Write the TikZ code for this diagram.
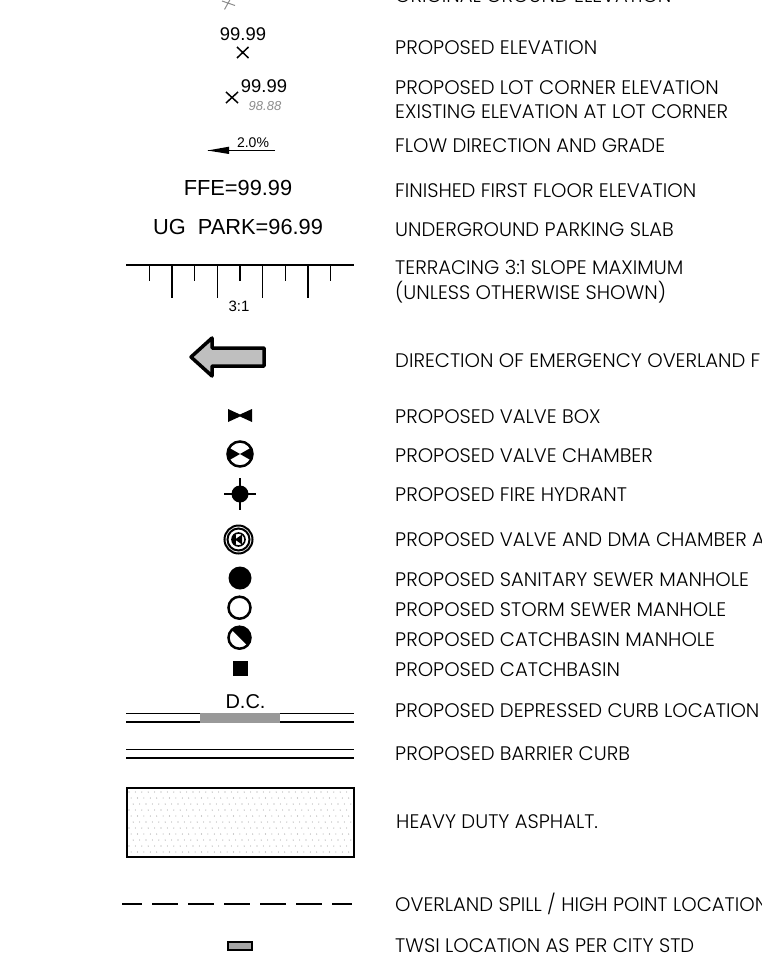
\documentclass[tikz,border=0pt]{standalone}
\usepackage{fontspec}
\setmainfont{Poppins Light}
\newfontfamily\capfont{Liberation Sans}
\tikzset{
	legendtext/.style={anchor=base west, inner sep=0pt, font=\fontsize{19.6}{20}\selectfont},
	capstext/.style={inner sep=0pt, font=\capfont\fontsize{21.8}{22}\selectfont},
	smalltext/.style={inner sep=0pt, font=\capfont\fontsize{18.4}{18}\selectfont},
	symbolline/.style={draw=black, line width=2pt},
	thinline/.style={draw=black, line width=1.5pt}
}
\begin{document}
\begin{tikzpicture}[x=1pt,y=-1pt]
		\useasboundingbox (0,0) rectangle (762,960);
		\clip (0,0) rectangle (762,960);
		
		% Define legend texts
		\node[legendtext] (TextOriginal) at (395,3) {ORIGINAL GROUND ELEVATION};
		\node[legendtext] (TextElevation) at (395,55) {PROPOSED ELEVATION};
		\node[legendtext] (TextLotCorner) at (395,94.3) {PROPOSED LOT CORNER ELEVATION};
		\node[legendtext] (TextExisting) at (395,119) {EXISTING ELEVATION AT LOT CORNER};
		\node[legendtext] (TextFlow) at (395,153) {FLOW DIRECTION AND GRADE};
		\node[legendtext] (TextFinished) at (395,197) {FINISHED FIRST FLOOR ELEVATION};
		\node[legendtext] (TextParking) at (395,236.5) {UNDERGROUND PARKING SLAB};
		\node[legendtext] (TextTerracing) at (395,274) {TERRACING 3:1 SLOPE MAXIMUM};
		\node[legendtext] (TextUnless) at (395,299) {(UNLESS OTHERWISE SHOWN)};
		\node[legendtext] (TextOverlandFlow) at (395,367.5) {DIRECTION OF EMERGENCY OVERLAND F};
		\node[legendtext] (TextValveBox) at (395,423.5) {PROPOSED VALVE BOX};
		\node[legendtext] (TextValveChamber) at (395,462.5) {PROPOSED VALVE CHAMBER};
		\node[legendtext] (TextHydrant) at (395,501.5) {PROPOSED FIRE HYDRANT};
		\node[legendtext] (TextDMA) at (395,546.5) {PROPOSED VALVE AND DMA CHAMBER A};
		\node[legendtext] (TextSanitary) at (395,586.5) {PROPOSED SANITARY SEWER MANHOLE};
		\node[legendtext] (TextStorm) at (395,616.5) {PROPOSED STORM SEWER MANHOLE};
		\node[legendtext] (TextManhole) at (395,646.5) {PROPOSED CATCHBASIN MANHOLE};
		\node[legendtext] (TextCatchbasin) at (395,676.5) {PROPOSED CATCHBASIN};
		\node[legendtext] (TextDepressed) at (395,717) {PROPOSED DEPRESSED CURB LOCATION};
		\node[legendtext] (TextBarrier) at (395,760.5) {PROPOSED BARRIER CURB};
		\node[legendtext] (TextAsphalt) at (396,828.5) {HEAVY DUTY ASPHALT.};
		\node[legendtext] (TextSpill) at (395,911) {OVERLAND SPILL / HIGH POINT LOCATION};
		\node[legendtext] (TextTWSI) at (395,952.5) {TWSI LOCATION AS PER CITY STD};
		
		% Elevation symbols
		\draw[black!45, line width=1pt] (224.5,9.5) -- (232,-4) (222,1) -- (235,5.5);
		\node[smalltext] (LabelElev) at (243,34.5) {99.99};
		\draw[thinline] (237,47) -- (248.5,58) (237,58) -- (248.5,47);
		\draw[thinline] (226,92) -- (238,103) (226,103) -- (238,92);
		\node[smalltext] (LabelLot) at (264,86) {99.99};
		\node[smalltext, font=\capfont\itshape\fontsize{13}{14}\selectfont, black!45] (LabelExisting) at (265,106) {98.88};
		
		% Flow arrow
		\coordinate (FlowStart) at (275,150.5);
		\coordinate (FlowEnd) at (208,150.5);
		\draw[thinline] (FlowStart) -- (FlowEnd);
		\fill (229,146.7) -- (207.5,150.5) -- (229,154) -- cycle;
		\node[smalltext, font=\capfont\fontsize{14}{16}\selectfont] (LabelGrade) at (253,143) {2.0\%};
		
		\node[capstext] (LabelFFE) at (238,188) {FFE=99.99};
		\node[capstext] (LabelPark) at (238,227) {UG\ \ PARK=96.99};
		
		% Terracing
		\draw[symbolline] (126,264.7) -- (354,264.7);
		\foreach \x in {172,217.3,262.7,308} {
			\draw[thinline] (\x,264.7) -- (\x,297.5);
		}
		\foreach \x in {149.3,194.7,240,285.3,330.7} {
			\draw[thinline] (\x,264.7) -- (\x,281);
		}
		\node[smalltext, font=\capfont\fontsize{15}{15}\selectfont] (LabelSlope) at (239,306.5) {3:1};
		
		% Overland arrow
		\draw[line width=3.5pt, line join=round, fill=black!25] (191,357) -- (212,338) -- (212,348) -- (264,348) -- (264,366) -- (212,366) -- (212,376) -- cycle;
		
		% Valve symbols
		\fill (228,409) -- (240,414.5) -- (252,409) -- (252,422) -- (240,416.5) -- (228,422) -- cycle;
		\draw[line width=2.5pt] (240,454) circle (12.5);
		\fill (229.5,448) -- (240,454) -- (250.5,448) -- (252,454) -- (250.5,460) -- (240,454) -- (229.5,460) -- (228,454) -- cycle;
		\fill (240,494) circle (8.5);
		\draw[line width=2.5pt] (224,494) -- (256,494) (240,478) -- (240,510);
		\draw[line width=2pt] (238.5,539.5) circle (14) circle (11);
		\draw[line width=1.6pt] (238.5,539.5) circle (6.5);
		\fill (232.5,535) rectangle (235.5,544);
		\fill (235,539.5) -- (242,534.5) -- (242,544.5) -- cycle;
		
		% Manholes
		\fill (240,578) circle (11.5);
		\draw[line width=2.5pt] (239.5,607.7) circle (11);
		\draw[line width=2.5pt] (239.5,637.7) circle (11);
		\fill (231.7,629.9) arc (225:405:11) -- cycle;
		\fill (232.5,661) rectangle (247.5,676);
		
		% Curbs
		\node[smalltext, font=\capfont\fontsize{20}{22}\selectfont] (LabelDC) at (245.5,702) {D.C.};
		\fill[black!40] (200,712.5) rectangle (280,722.5);
		\draw[thinline] (126,713.3) -- (200,713.3) (280,713.3) -- (354,713.3);
		\draw[symbolline] (126,722) -- (200,722) (280,722) -- (354,722);
		\draw[thinline] (126,749.7) -- (354,749.7);
		\draw[symbolline] (126,758) -- (354,758);
		
		% Asphalt
		\foreach \i in {0,...,10} {
			\foreach \j in {0,...,34} {
				\fill[black!40] ({129+\j*6.4+mod(\i,3)*2.1},{792+\i*6}) circle (0.55);
			}
		}
		\draw[line width=2pt] (126.5,788) rectangle (353.5,856.5);
		
		% Spill line and TWSI
		\draw[symbolline] (122,904) -- (142,904) (152,904) -- (178,904) (188,904) -- (214,904) (224,904) -- (250,904) (260,904) -- (286,904) (296,904) -- (322,904) (332,904) -- (352,904);
		\draw[line width=2pt, fill=black!35] (227.5,942) rectangle (252,950);
		
	\end{tikzpicture}
\end{document}
